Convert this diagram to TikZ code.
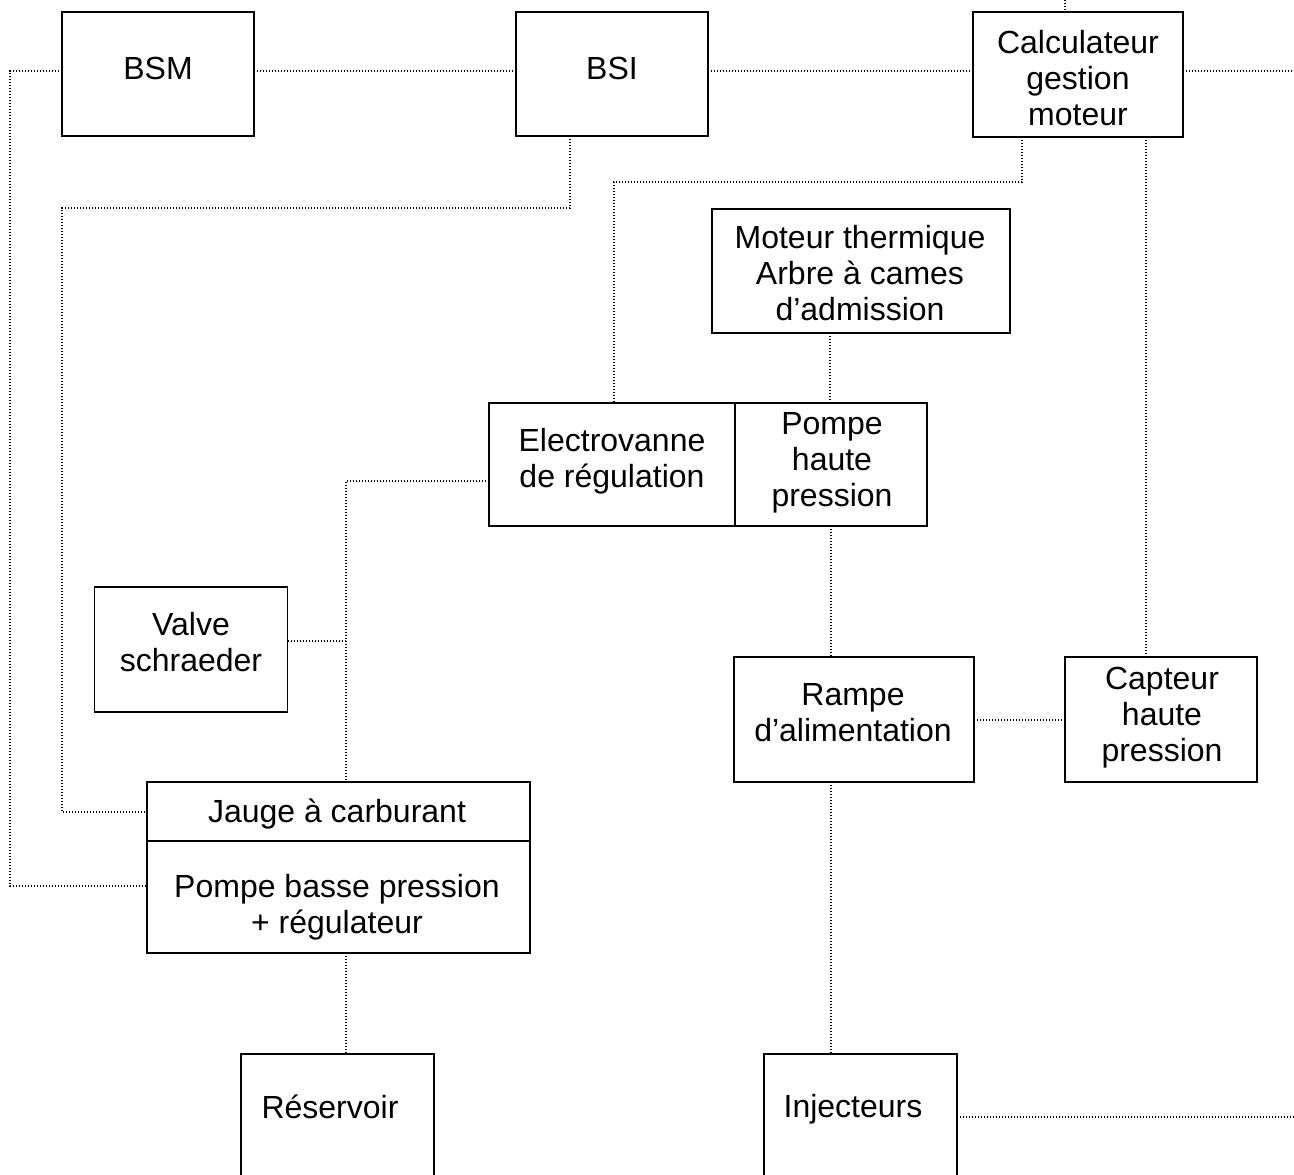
\documentclass[tikz,border=0pt]{standalone}
\usepackage{fontspec}
\setmainfont{Liberation Sans}
\begin{document}
\begin{tikzpicture}[x=1pt,y=-1pt,
  box/.style={draw, line width=1.9pt, inner sep=0pt, outer sep=0pt, rectangle},
  txt/.style={align=center, font=\fontsize{32}{36}\selectfont, inner sep=0pt},
  link/.style={line width=1.3pt, dash pattern=on 1.1pt off 1.9pt}]
\useasboundingbox (0,0) rectangle (1294,1175);
\clip (0,0) rectangle (1294,1175);

% boxes
\node[box, minimum width=192pt, minimum height=124pt] (bsm)   at (158,74)    {};
\node[box, minimum width=192pt, minimum height=124pt] (bsi)   at (612,74)    {};
\node[box, minimum width=210pt, minimum height=125pt] (calc)  at (1078,74.5) {};
\node[box, minimum width=298pt, minimum height=124pt] (mot)   at (861,271)   {};
\node[box, minimum width=246pt, minimum height=123pt] (elec)  at (612,464.5) {};
\node[box, minimum width=192pt, minimum height=123pt] (php)   at (831,464.5) {};
\node[box, minimum width=193pt, minimum height=125pt] (valve) at (191,649.5) {};
\node[box, minimum width=383pt, minimum height=59pt]  (jauge) at (338.5,811.5) {};
\node[box, minimum width=383pt, minimum height=112pt] (pbp)   at (338.5,897) {};
\node[box, minimum width=240pt, minimum height=125pt] (rampe) at (854,719.5) {};
\node[box, minimum width=192pt, minimum height=125pt] (capt)  at (1161,719.5) {};
\node[box, minimum width=193pt, minimum height=152pt] (res)   at (337.5,1130) {};
\node[box, minimum width=193pt, minimum height=152pt] (inj)   at (860.5,1130) {};

% texts
\node[txt] (bsm-t)   at (158,68)   {BSM};
\node[txt] (bsi-t)   at (612,68)   {BSI};
\node[txt] (calc-t)  at (1078,78)  {Calculateur\\gestion\\moteur};
\node[txt] (mot-t)   at (860,273)  {Moteur thermique\\Arbre à cames\\d’admission};
\node[txt] (elec-t)  at (612,461)  {Electrovanne\\de régulation};
\node[txt] (php-t)   at (832,463)  {Pompe\\haute\\pression};
\node[txt] (valve-t) at (191,642)  {Valve\\schraeder};
\node[txt] (jauge-t) at (337,814)  {Jauge à carburant};
\node[txt] (pbp-t)   at (337,907)  {Pompe basse pression\\+ régulateur};
\node[txt] (rampe-t) at (853,713)  {Rampe\\d’alimentation};
\node[txt] (capt-t)  at (1162,718) {Capteur\\haute\\pression};
\node[txt] (res-t)   at (330,1107) {Réservoir};
\node[txt] (inj-t)   at (853,1109) {Injecteurs};

% free ends
\coordinate (top) at (1065,0);
\coordinate (r1)  at (1294,71);
\coordinate (r2)  at (1294,1117);

% connectors
\draw[link] (top) -- (top |- calc.north);
\draw[link] (calc.east |- r1) -- (r1);
\draw[link] (bsm.east |- r1) -- (bsi.west |- r1);
\draw[link] (bsi.east |- r1) -- (calc.west |- r1);
\draw[link] (bsm.west |- r1) -- (10,71) -- (10,886) -- (pbp.west |- 0,886);
\draw[link] (bsi.south -| 570,0) -- (570,208) -- (62,208) -- (62,812) -- (jauge.west |- 0,812);
\draw[link] (calc.south -| 1022,0) -- (1022,182) -- (614,182) -- (elec.north -| 614,0);
\draw[link] (calc.south -| 1146,0) -- (capt.north -| 1146,0);
\draw[link] (mot.south -| 830,0) -- (php.north -| 830,0);
\draw[link] (elec.west |- 0,481) -- (346,481) -- (jauge.north -| 346,0);
\draw[link] (valve.east |- 0,641) -- (346,641);
\draw[link] (php.south -| 831,0) -- (rampe.north -| 831,0);
\draw[link] (rampe.east |- 0,720) -- (capt.west |- 0,720);
\draw[link] (pbp.south -| 346,0) -- (res.north -| 346,0);
\draw[link] (rampe.south -| 831,0) -- (inj.north -| 831,0);
\draw[link] (inj.east |- r2) -- (r2);
\end{tikzpicture}
\end{document}
